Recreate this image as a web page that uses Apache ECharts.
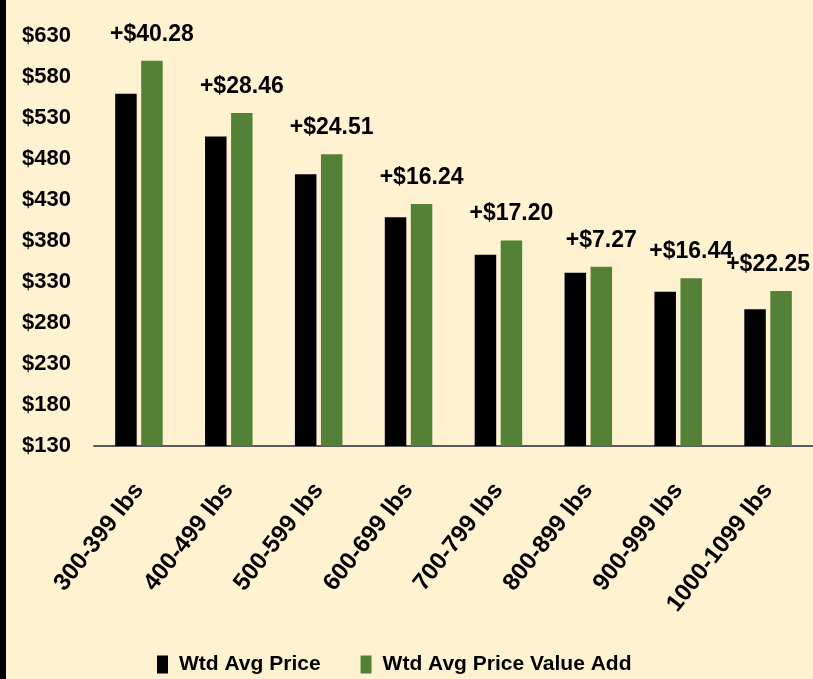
<!DOCTYPE html>
<html>
<head>
<meta charset="utf-8">
<script src="https://cdn.jsdelivr.net/npm/echarts@6/dist/echarts.min.js"></script>
<style>
html,body{margin:0;padding:0;background:#fff2d1;}
#chart{width:813px;height:679px;}
</style>
</head>
<body>
<div id="chart"></div>
<script>
var categories = ['300-399 lbs','400-499 lbs','500-599 lbs','600-699 lbs','700-799 lbs','800-899 lbs','900-999 lbs','1000-1099 lbs'];
var wtdAvgPrice = [559, 507, 461, 408.6, 363, 341, 318, 296.5];
var valueAddPremium = [40.28, 28.46, 24.51, 16.24, 17.20, 7.27, 16.44, 22.25];
var wtdAvgPriceValueAdd = [599.28, 535.46, 485.51, 424.84, 380.20, 348.27, 334.44, 318.75];
var yTicks = { min: 130, max: 630, interval: 50 };

var FONT = "'Liberation Sans','Arial',sans-serif";
var chart = echarts.init(document.getElementById('chart'));

var greenData = wtdAvgPriceValueAdd.map(function (v, i) {
  var d = { value: v };
  if (i === wtdAvgPriceValueAdd.length - 1) d.label = { offset: [-13, 0] };
  return d;
});

chart.setOption({
  backgroundColor: '#fff2d1',
  animation: false,
  graphic: [{ type: 'rect', left: 0, top: 0, shape: { x: 0, y: 0, width: 6, height: 679 }, style: { fill: '#000' } }],
  legend: {
    left: 152, top: 649,
    itemWidth: 11, itemHeight: 18, itemGap: 40,
    icon: 'rect',
    textStyle: { fontFamily: FONT, fontWeight: 'bold', fontSize: 21, color: '#000', padding: [0, 0, 0, 6] },
    data: ['Wtd Avg Price', 'Wtd Avg Price Value Add']
  },
  grid: { left: 94, right: -2, top: 35.5, bottom: 233, containLabel: false },
  xAxis: {
    type: 'category',
    data: categories,
    axisLine: { lineStyle: { color: '#595959', width: 2 } },
    axisTick: { show: false },
    axisLabel: {
      interval: 0, rotate: 52, margin: 40,
      fontFamily: FONT, fontWeight: 'bold', fontSize: 24, color: '#000'
    }
  },
  yAxis: {
    type: 'value',
    min: yTicks.min, max: yTicks.max, interval: yTicks.interval,
    splitLine: { show: false },
    axisLine: { show: false },
    axisTick: { show: false },
    axisLabel: {
      margin: 23, fontFamily: FONT, fontWeight: 'bold', fontSize: 22, color: '#000',
      formatter: function (v) { return '$' + v; }
    }
  },
  series: [
    {
      name: 'Wtd Avg Price', type: 'bar', data: wtdAvgPrice,
      barWidth: 21.5, barGap: '21%',
      itemStyle: { color: '#000000' }
    },
    {
      name: 'Wtd Avg Price Value Add', type: 'bar', data: greenData,
      barWidth: 21.5, barGap: '21%',
      itemStyle: { color: '#538135' },
      label: {
        show: true, position: 'top', distance: 15,
        fontFamily: FONT, fontWeight: 'bold', fontSize: 23, color: '#000',
        formatter: function (p) { return '+$' + valueAddPremium[p.dataIndex].toFixed(2); }
      }
    }
  ]
});
</script>
</body>
</html>
